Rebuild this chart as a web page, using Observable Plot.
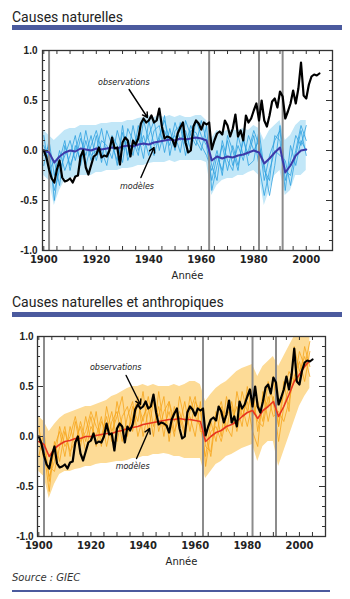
<!DOCTYPE html>
<html><head><meta charset="utf-8">
<script src="https://cdn.jsdelivr.net/npm/d3@7"></script>
<script src="https://cdn.jsdelivr.net/npm/@observablehq/plot@0.6"></script>
<style>
body{margin:0;background:#fff;width:350px;height:599px;position:relative;overflow:hidden;font-family:Roboto,"Liberation Sans",sans-serif;}
.title{position:absolute;left:12px;font-size:14px;color:#222;font-family:Roboto,sans-serif;line-height:16px;}
.bar{position:absolute;left:12px;width:330px;height:5px;background:#4b5a9e;}
.chart{position:absolute;left:0;}
.src{position:absolute;left:12px;top:572px;font-style:italic;font-size:10px;color:#333;font-family:"DejaVu Sans",sans-serif;}
.line{position:absolute;left:12px;top:590px;width:318px;height:1.5px;background:#4b5a9e;}
</style></head>
<body>
<div class="title" style="top:9px">Causes naturelles</div>
<div class="bar" style="top:25px"></div>
<div id="c1" class="chart" style="top:40px"></div>
<div class="title" style="top:294px">Causes naturelles et anthropiques</div>
<div class="bar" style="top:312px"></div>
<div id="c2" class="chart" style="top:326px"></div>
<div class="src">Source : GIEC</div>
<div class="line"></div>
<script>
// ---------- DATA ----------
const obsYears = d3.range(1900, 2006);
const obs = [
  0.00, -0.07, -0.19, -0.28, -0.32, -0.19, -0.10, -0.27, -0.31, -0.30,
  -0.28, -0.32, -0.26, -0.25, -0.06, 0.00, -0.17, -0.24, -0.15, -0.06,
  -0.04, 0.03, -0.07, -0.05, -0.06, 0.00, 0.13, 0.02, 0.03, -0.14,
  0.08, 0.13, 0.10, -0.06, 0.10, 0.06, 0.12, 0.27, 0.32, 0.28,
  0.30, 0.35, 0.28, 0.30, 0.42, 0.24, 0.12, 0.14, 0.13, 0.11,
  0.04, 0.17, 0.23, 0.28, 0.08, -0.02, 0.00, 0.24, 0.30, 0.27,
  0.21, 0.28, 0.26, 0.28, 0.01, 0.10, 0.17, 0.19, 0.16, 0.30,
  0.25, 0.14, 0.22, 0.36, 0.14, 0.20, 0.10, 0.35, 0.28, 0.32,
  0.40, 0.47, 0.30, 0.50, 0.30, 0.24, 0.35, 0.49, 0.52, 0.43,
  0.59, 0.54, 0.32, 0.39, 0.47, 0.60, 0.47, 0.62, 0.88, 0.55,
  0.52, 0.66, 0.74, 0.76, 0.75, 0.77
];

const natYears = d3.range(1900, 2001, 2);
const natMean = [
  0.00, -0.02, -0.12, -0.06, -0.02, 0.00, -0.01, 0.02, 0.01, 0.00,
  0.02, 0.01, 0.02, 0.03, 0.02, 0.04, 0.05, 0.04, 0.06, 0.07,
  0.06, 0.08, 0.09, 0.10, 0.11, 0.10, 0.12, 0.11, 0.12, 0.13,
  0.12, 0.10, -0.10, -0.06, -0.08, -0.06, -0.07, -0.05, -0.04, -0.02,
  0.00, -0.02, -0.13, -0.08, -0.02, 0.03, -0.22, -0.15, -0.05, 0.00,
  0.01
];
const natLo = [
  -0.25, -0.30, -0.55, -0.40, -0.30, -0.28, -0.27, -0.25, -0.25, -0.25,
  -0.22, -0.22, -0.20, -0.20, -0.20, -0.18, -0.18, -0.17, -0.15, -0.15,
  -0.13, -0.12, -0.12, -0.12, -0.10, -0.12, -0.10, -0.10, -0.10, -0.10,
  -0.10, -0.12, -0.45, -0.35, -0.30, -0.28, -0.28, -0.25, -0.25, -0.22,
  -0.20, -0.25, -0.55, -0.40, -0.25, -0.20, -0.45, -0.40, -0.25, -0.25,
  -0.20
];
const natHi = [
  0.20, 0.15, 0.10, 0.15, 0.20, 0.22, 0.22, 0.25, 0.25, 0.25,
  0.25, 0.27, 0.27, 0.28, 0.28, 0.28, 0.30, 0.30, 0.32, 0.33,
  0.35, 0.33, 0.35, 0.33, 0.35, 0.33, 0.35, 0.33, 0.33, 0.35,
  0.35, 0.30, 0.12, 0.20, 0.18, 0.20, 0.20, 0.20, 0.22, 0.20,
  0.25, 0.22, 0.10, 0.20, 0.25, 0.30, 0.10, 0.15, 0.25, 0.30,
  0.30
];
const natRunA = [
  0.05, -0.10, -0.40, -0.20, -0.05, 0.10, -0.10, 0.12, -0.05, 0.15,
  -0.10, 0.10, 0.05, -0.08, 0.20, 0.00, 0.10, -0.05, 0.25, 0.05,
  0.15, 0.30, 0.00, 0.20, 0.05, 0.28, 0.10, 0.20, 0.00, 0.30,
  0.15, 0.05, -0.30, -0.05, -0.20, 0.10, -0.15, 0.05, -0.10, 0.15,
  0.00, 0.10, -0.30, -0.05, 0.10, 0.20, -0.30, -0.10, 0.15, 0.05,
  0.25
];
const natRunB = [
  -0.15, 0.10, -0.25, 0.00, -0.20, -0.05, 0.15, -0.15, 0.10, -0.10,
  0.15, -0.12, 0.20, 0.05, -0.10, 0.18, -0.05, 0.25, 0.00, 0.15,
  -0.05, 0.20, 0.25, -0.02, 0.22, 0.00, 0.28, 0.05, 0.25, 0.10,
  0.00, 0.25, -0.40, -0.15, 0.05, -0.20, 0.05, -0.15, 0.10, -0.05,
  0.15, -0.15, -0.45, -0.20, 0.00, -0.05, -0.10, -0.35, -0.05, 0.20,
  -0.05
];
const natRunC = [
  0.15, -0.20, -0.10, -0.35, 0.05, -0.15, 0.00, 0.18, -0.15, 0.05,
  0.20, 0.00, -0.15, 0.15, 0.05, -0.12, 0.22, 0.10, -0.05, 0.30,
  0.10, -0.05, 0.15, 0.30, 0.10, 0.15, -0.02, 0.30, 0.15, 0.05,
  0.30, 0.10, -0.15, -0.30, 0.10, -0.10, -0.20, 0.15, -0.05, 0.00,
  0.20, 0.05, -0.15, -0.45, -0.15, 0.25, -0.20, -0.25, 0.00, 0.25,
  0.10
];
const natRunD = [
  -0.05, 0.05, -0.50, -0.10, 0.10, -0.20, 0.05, -0.10, 0.20, -0.05,
  0.00, 0.22, -0.05, 0.10, -0.15, 0.25, -0.10, 0.05, 0.15, -0.08,
  0.30, 0.05, 0.10, 0.35, -0.05, 0.20, 0.25, -0.05, 0.20, 0.18,
  0.05, -0.05, -0.20, 0.00, -0.25, 0.15, 0.00, -0.20, 0.15, -0.15,
  -0.10, 0.20, -0.20, -0.30, 0.15, 0.10, -0.40, 0.05, -0.15, 0.10,
  0.00
];

const antYears = d3.range(1900, 2005, 2);
const antMean = [
  -0.05, -0.08, -0.20, -0.12, -0.08, -0.05, -0.04, -0.02, -0.02, 0.00,
  0.00, 0.01, 0.02, 0.03, 0.03, 0.05, 0.06, 0.08, 0.09, 0.10,
  0.12, 0.13, 0.14, 0.15, 0.16, 0.17, 0.17, 0.18, 0.17, 0.17,
  0.16, 0.15, -0.05, 0.00, 0.04, 0.06, 0.10, 0.12, 0.15, 0.20,
  0.24, 0.26, 0.18, 0.26, 0.30, 0.35, 0.20, 0.30, 0.42, 0.55,
  0.62, 0.70, 0.76
];
const antLo = [
  -0.35, -0.40, -0.62, -0.48, -0.38, -0.35, -0.35, -0.33, -0.32, -0.30,
  -0.30, -0.28, -0.27, -0.27, -0.26, -0.25, -0.25, -0.24, -0.22, -0.22,
  -0.20, -0.20, -0.18, -0.18, -0.17, -0.18, -0.20, -0.20, -0.22, -0.22,
  -0.22, -0.22, -0.42, -0.35, -0.28, -0.25, -0.20, -0.18, -0.15, -0.12,
  -0.10, -0.08, -0.25, -0.10, -0.05, -0.05, -0.30, -0.15, 0.00, 0.15,
  0.30, 0.40, 0.48
];
const antHi = [
  0.20, 0.15, 0.05, 0.12, 0.18, 0.22, 0.24, 0.26, 0.28, 0.30,
  0.30, 0.32, 0.34, 0.36, 0.40, 0.42, 0.45, 0.48, 0.50, 0.50,
  0.52, 0.50, 0.52, 0.50, 0.50, 0.50, 0.52, 0.50, 0.52, 0.55,
  0.55, 0.52, 0.35, 0.42, 0.48, 0.52, 0.55, 0.60, 0.65, 0.68,
  0.70, 0.72, 0.60, 0.70, 0.75, 0.80, 0.70, 0.80, 0.90, 1.00,
  1.00, 1.00, 1.00
];
const antRunA = [
  -0.20, 0.05, -0.45, -0.10, 0.05, -0.20, 0.10, -0.10, 0.15, -0.05,
  0.20, -0.10, 0.15, 0.05, 0.25, -0.05, 0.20, 0.30, 0.05, 0.35,
  0.15, 0.40, 0.10, 0.30, 0.00, 0.35, 0.15, 0.25, 0.05, 0.40,
  0.20, 0.10, -0.20, 0.15, -0.05, 0.30, 0.05, 0.35, 0.10, 0.45,
  0.25, 0.50, 0.05, 0.40, 0.30, 0.60, 0.10, 0.45, 0.65, 0.55,
  0.85, 0.70, 0.95
];
const antRunB = [
  0.10, -0.25, -0.30, -0.35, -0.10, 0.10, -0.20, 0.15, -0.10, 0.20,
  -0.05, 0.25, -0.10, 0.30, 0.05, 0.20, 0.40, 0.00, 0.30, 0.15,
  0.45, 0.05, 0.35, 0.20, 0.40, -0.05, 0.30, 0.10, 0.35, 0.05,
  0.35, 0.25, -0.10, -0.15, 0.25, 0.00, 0.40, 0.15, 0.30, 0.10,
  0.50, 0.20, 0.35, 0.15, 0.55, 0.35, -0.05, 0.30, 0.50, 0.80,
  0.55, 0.90, 0.70
];
const antRunC = [
  -0.10, -0.15, -0.55, -0.05, -0.25, 0.05, -0.15, -0.05, 0.10, -0.15,
  0.10, 0.00, 0.20, -0.10, 0.15, 0.25, -0.05, 0.20, 0.35, 0.00,
  0.20, 0.30, 0.00, 0.45, 0.10, 0.25, 0.00, 0.40, 0.15, 0.20,
  0.00, 0.35, -0.30, 0.05, 0.10, -0.05, 0.20, 0.30, 0.05, 0.30,
  0.10, 0.35, 0.15, 0.10, 0.40, 0.20, 0.25, 0.15, 0.35, 0.60,
  0.75, 0.55, 0.85
];
const antRunD = [
  0.00, -0.10, -0.40, -0.25, 0.10, -0.10, 0.00, 0.20, -0.05, 0.05,
  0.25, 0.10, 0.00, 0.20, -0.05, 0.35, 0.10, 0.05, 0.20, 0.40,
  0.00, 0.25, 0.40, 0.05, 0.25, 0.35, 0.05, 0.20, 0.00, 0.25,
  0.40, 0.05, 0.05, -0.20, 0.20, 0.35, 0.10, 0.00, 0.45, 0.20,
  0.35, 0.05, -0.10, 0.45, 0.15, 0.40, 0.10, 0.55, 0.25, 0.90,
  0.65, 0.80, 0.60
];

const volcanoes = [1902, 1963, 1982, 1991];
const xLabels = [1900, 1920, 1940, 1960, 1980, 2000];
const xMinor = d3.range(1900, 2011, 5);
const yLabels = [-1, -0.5, 0, 0.5, 1];
const yMinor = d3.range(-10, 11).map(d => d / 10);
const yMajor = [-1, -0.5, 0, 0.5, 1];

const natAnnotLabels = [{label: "observations", year: 1930.5, value: 0.68}, {label: "modèles", year: 1935.5, value: -0.36}];
const natAnnotArrows = [{x1: 1932.5, y1: 0.61, x2: 1939.5, y2: 0.33}, {x1: 1937, y1: -0.27, x2: 1942, y2: 0.03}];
const antAnnotLabels = [{label: "observations", year: 1929.5, value: 0.69}, {label: "modèles", year: 1936, value: -0.30}];
const antAnnotArrows = [{x1: 1933.5, y1: 0.61, x2: 1939, y2: 0.32}, {x1: 1937.5, y1: -0.22, x2: 1942.5, y2: 0.08}];

// ---------- CHART ----------
const W = 350, H = 250, mT = 10, mB = 40;
const xDomain = [1899.5, 2010];

function drawChart(el, cfg) {
  const fh = H - mT - mB, fw = W - cfg.mL - cfg.mR;
  const band = cfg.years.map((y, i) => ({year: y, lo: cfg.lo[i], hi: cfg.hi[i]}));
  const meanRows = cfg.years.map((y, i) => ({year: y, value: cfg.mean[i]}));
  const runRows = cfg.runs.flatMap((r, k) => r.map((v, i) => ({year: cfg.years[i], value: v, run: k})));
  const obsRows = obsYears.map((y, i) => ({year: y, value: obs[i]}));
  const tickColor = "#333";
  const p = Plot.plot({
    width: W, height: H,
    marginTop: mT, marginBottom: mB, marginLeft: cfg.mL, marginRight: cfg.mR,
    style: {fontFamily: "'DejaVu Sans', sans-serif", fontSize: "10px", color: "#222", background: "transparent"},
    x: {domain: xDomain, label: null},
    y: {domain: [-1, 1], label: null},
    marks: [
      Plot.areaY(band, {x: "year", y1: "lo", y2: "hi", fill: cfg.bandFill}),
      Plot.lineY(runRows, {x: "year", y: "value", z: "run", stroke: cfg.runColor, strokeWidth: 0.8}),
      Plot.ruleX(volcanoes, {x: d => d, stroke: "#8c8c8c", strokeWidth: 2}),
      Plot.lineY(meanRows, {x: "year", y: "value", stroke: cfg.meanColor, strokeWidth: cfg.meanWidth}),
      Plot.lineY(obsRows, {x: "year", y: "value", stroke: "#000", strokeWidth: 2.2, strokeLinejoin: "round"}),
      Plot.tickX(xMinor, {x: d => d, insetBottom: fh - 4, stroke: tickColor}),
      Plot.tickX(xMinor, {x: d => d, insetTop: fh - 4, stroke: tickColor}),
      Plot.tickY(yMinor, {y: d => d, insetRight: fw - 3, stroke: tickColor}),
      Plot.tickY(yMinor, {y: d => d, insetLeft: fw - 3, stroke: tickColor}),
      Plot.tickY(yMajor, {y: d => d, insetRight: fw - 6, stroke: tickColor}),
      Plot.tickY(yMajor, {y: d => d, insetLeft: fw - 6, stroke: tickColor}),
      Plot.frame({stroke: "#333", strokeWidth: 1.3}),
      Plot.axisY({ticks: yLabels, tickSize: 0, tickPadding: cfg.yPad, tickFormat: d => d.toFixed(1),
        fontFamily: "'Liberation Sans', sans-serif", fontWeight: "bold", fontSize: 10, fill: "#222"}),
      Plot.axisX({ticks: xLabels, tickSize: 0, tickPadding: 5, tickFormat: d => String(d),
        fontWeight: "bold", fontSize: 10, fill: "#222"}),
      Plot.text(["Année"], {frameAnchor: "bottom", dy: 28, text: d => d, fontSize: 10, fill: "#222"}),
      Plot.arrow(cfg.arrows, {x1: "x1", y1: "y1", x2: "x2", y2: "y2", stroke: "#000", strokeWidth: 1.4, headLength: 6}),
      Plot.text(cfg.labels, {x: "year", y: "value", text: "label", fontStyle: "italic", fontSize: 8, fill: "#222"})
    ]
  });
  document.getElementById(el).appendChild(p);
}

drawChart("c1", {
  years: natYears, mean: natMean, lo: natLo, hi: natHi,
  runs: [natRunA, natRunB, natRunC, natRunD],
  bandFill: "#c2e7f8", runColor: "#2c9fe0", meanColor: "#3c38a8", meanWidth: 2,
  mL: 42, mR: 18, yPad: 5,
  labels: natAnnotLabels, arrows: natAnnotArrows
});
drawChart("c2", {
  years: antYears, mean: antMean, lo: antLo, hi: antHi,
  runs: [antRunA, antRunB, antRunC, antRunD],
  bandFill: "#fddb96", runColor: "#f6a51a", meanColor: "#e8351e", meanWidth: 1.6,
  mL: 37, mR: 25, yPad: 4,
  labels: antAnnotLabels, arrows: antAnnotArrows
});
</script>
</body></html>
